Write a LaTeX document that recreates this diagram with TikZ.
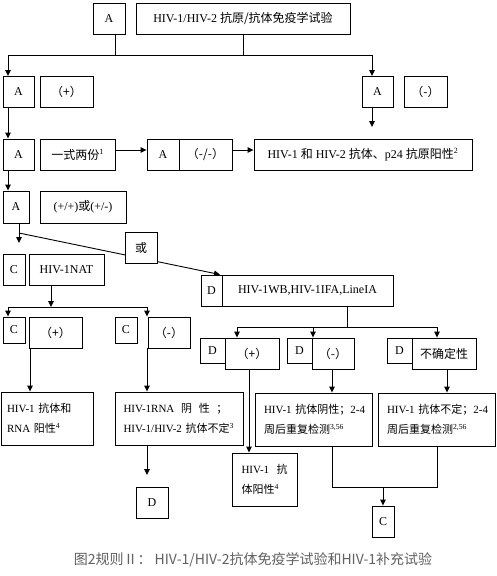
\documentclass[tikz,border=0pt]{standalone}
\usepackage{fontspec}
\setmainfont{Liberation Serif}
\newfontfamily\cjk{Noto Sans CJK SC}
\usetikzlibrary{arrows.meta,backgrounds,calc}
\begin{document}
\begin{tikzpicture}[x=1pt,y=-1pt,
  bx/.style={draw, line width=0.9pt, inner sep=0pt, fill=white, font=\fontsize{12}{14}\selectfont},
  wd/.style={minimum width=#1},
  ht/.style={minimum height=#1},
  multi/.style={bx, align=left, font=\fontsize{11}{19.5}\selectfont},
  ln/.style={line width=0.9pt},
  arr/.style={line width=0.9pt, -{Triangle[length=6pt,width=5.5pt]}},
  captxt/.style={font=\cjk\fontsize{14}{16}\selectfont, text=black!62}
]
\useasboundingbox (0,0) rectangle (497,576);

% row 0
\node[bx, wd=32pt, ht=31pt] (A0) at (109,18.5) {A};
\node[bx, wd=214pt, ht=31pt] (T0) at (243,18.5) {HIV-1/HIV-2 {\cjk 抗原/抗体免疫学试验}};
% row 1
\node[bx, wd=31pt, ht=31pt] (A1) at (18.5,92) {A};
\node[bx, wd=53pt, ht=31pt] (P1) at (66.5,92) {\cjk （+）};
\node[bx, wd=31pt, ht=31pt] (A2) at (377.5,92) {A};
\node[bx, wd=43pt, ht=31pt] (M1) at (425.5,92) {\cjk （-）};
% row 3
\node[bx, wd=31pt, ht=31pt] (A3) at (18.5,154.5) {A};
\node[bx, wd=75pt, ht=31pt] (Y3) at (77.5,154.5) {{\cjk 一式两份}\textsuperscript{1}};
\node[bx, wd=32pt, ht=31pt] (AM3a) at (163,154.5) {A};
\node[bx, wd=53pt, ht=31pt] (AM3b) at (205.5,154.5) {\cjk （-/-）};
\node[bx, wd=218pt, ht=31pt] (H3) at (363,154.5) {HIV-1 {\cjk 和} HIV-2 {\cjk 抗体、}p24 {\cjk 抗原阳性}\textsuperscript{2}};
% row 4
\node[bx, wd=26pt, ht=32pt] (A4) at (16,207) {A};
\node[bx, wd=86pt, ht=32pt] (PP4) at (83,207) {(+/+){\cjk 或}(+/-)};
% row 5
\node[bx, wd=22pt, ht=31pt] (C5) at (14,269.5) {C};
\node[bx, wd=75pt, ht=31pt] (N5) at (66.5,269.5) {HIV-1NAT};
\node[bx, wd=21pt, ht=31pt] (D5) at (211.5,290.5) {D};
\node[bx, wd=171pt, ht=31pt] (W5) at (307.5,290.5) {HIV-1WB,HIV-1IFA,LineIA};
% row 6 left
\node[bx, wd=22pt, ht=26pt] (C6a) at (14,330) {C};
\node[bx, wd=53pt, ht=31pt] (P6) at (55.5,332.5) {\cjk （+）};
\node[bx, wd=22pt, ht=26pt] (C6b) at (126,330) {C};
\node[bx, wd=42pt, ht=31pt] (M6) at (169,332.5) {\cjk （-）};
% row 6 right
\node[bx, wd=25pt, ht=25pt] (DpD) at (212.5,350.5) {D};
\node[bx, wd=54pt, ht=31pt] (DpP) at (252,353.5) {\cjk （+）};
\node[bx, wd=25pt, ht=25pt] (DmD) at (299.5,350.5) {D};
\node[bx, wd=42pt, ht=31pt] (DmM) at (333,353.5) {\cjk （-）};
\node[bx, wd=25pt, ht=25pt] (DuD) at (399.5,350.5) {D};
\node[bx, wd=64pt, ht=31pt] (DuU) at (444,353.5) {\cjk 不确定性};
% row 7
\node[multi, wd=92pt, ht=53pt, text width=80pt] (L7) at (47,418.5) {HIV-1 {\cjk 抗体和}\\RNA {\cjk 阳性}\textsuperscript{4}};
\node[multi, wd=128pt, ht=53pt, text width=111pt] (R7) at (179,418.5) {\makebox[104pt][l]{HIV-1RNA\hfill{\cjk 阴}\hfill{\cjk 性}\hfill{\cjk ；}}\\HIV-1/HIV-2 {\cjk 抗体不定}\textsuperscript{3}};
\node[multi, wd=117pt, ht=53pt, text width=99pt] (Neg7) at (313.5,419.5) {\mbox{HIV-1 {\cjk 抗体阴性；}2-4}\\{\cjk 周后重复检测}\textsuperscript{3,56}};
\node[multi, wd=117pt, ht=53pt, text width=99pt] (Und7) at (436.5,419.5) {\mbox{HIV-1 {\cjk 抗体不定；}2-4}\\{\cjk 周后重复检测}\textsuperscript{2,56}};
\node[multi, wd=65pt, ht=53pt, text width=46pt] (Pos8) at (264.5,479.5) {\makebox[46pt][l]{HIV-1\hfill{\cjk 抗}}\\{\cjk 体阳性}\textsuperscript{4}};
\node[bx, wd=32pt, ht=31pt] (D8) at (152,502.5) {D};
\node[bx, wd=22pt, ht=31pt] (C9) at (383,521.5) {C};
\node[bx, wd=32pt, ht=31pt] (Or) at (141,247.5) {\cjk 或};

% caption
\node[captxt] (cap) at (253,560) {图2规则Ⅱ： HIV-1/HIV-2抗体免疫学试验和HIV-1补充试验};

% connectors top
\coordinate (jL) at (8,55);
\coordinate (jR) at (372,55);
\coordinate (a0b) at ([xshift=6pt]A0.south);
\draw[ln] (a0b) -- (a0b |- jL);
\draw[ln] (T0.south) -- (T0.south |- jL);
\draw[ln] (jL) -- (jR);
\draw[arr] (jL) -- (jL |- A1.north);
\draw[arr] (jR) -- (jR |- A2.north);
\coordinate (a2e) at (372,127);
\draw[arr] (a2e |- A2.south) -- (a2e);
% row 3
\draw[arr] (jL |- A1.south) -- (jL |- A3.north);
\coordinate (y3e) at ([yshift=4.5pt]Y3.east);
\draw[arr] (y3e) -- (y3e -| AM3a.west);
\coordinate (am3e) at ([yshift=4.5pt]AM3b.east);
\draw[arr] (am3e) -- (am3e -| H3.west);
% row 4
\draw[arr] (jL |- A3.south) -- (jL |- A4.north);
\coordinate (j4) at (19,233);
\coordinate (c5t) at (19,243);
\draw[ln] (j4 |- A4.south) -- (j4);
\draw[arr] (j4) -- (c5t);
\coordinate (dtgt) at ([xshift=8.5pt]D5.north);
\begin{scope}[on background layer]
\fill[white] (0,0) rectangle (497,576);
\draw[arr] (j4) -- (dtgt);
\end{scope}
% row 5
\coordinate (j5) at (51,307);
\coordinate (j5L) at (8,307);
\coordinate (j5R) at (147,307);
\draw[arr] (j5 |- N5.south) -- (j5);
\draw[ln] (j5L) -- (j5R);
\draw[arr] (j5L) -- (j5L |- C6a.north);
\draw[arr] (j5R) -- (j5R |- M6.north);
\coordinate (j6) at (347,327);
\coordinate (j6L) at (237,327);
\coordinate (j6M) at (313,327);
\coordinate (j6R) at (437,327);
\draw[ln] (j6 |- W5.south) -- (j6);
\draw[ln] (j6L) -- (j6R);
\draw[arr] (j6L) -- (j6L |- DpP.north);
\draw[arr] (j6M) -- (j6M |- DmM.north);
\draw[arr] (j6R) -- (j6R |- DuU.north);
% row 7
\coordinate (x30) at (30,0);
\draw[arr] (x30 |- P6.south) -- (x30 |- L7.north);
\draw[arr] (j5R |- M6.south) -- (j5R |- R7.north);
\coordinate (d8t) at (147,475);
\draw[arr] (d8t |- R7.south) -- (d8t);
\coordinate (x249) at (249,0);
\draw[arr] (x249 |- DpP.south) -- (x249 |- Pos8.north);
\coordinate (x332) at (332,487);
\coordinate (x437) at (437,487);
\coordinate (x447) at (447,0);
\draw[arr] (x332 |- DmM.south) -- (x332 |- Neg7.north);
\draw[arr] (x447 |- DuU.south) -- (x447 |- Und7.north);
\draw[ln] (x332 |- Neg7.south) -- (x332) -- (x437) -- (x437 |- Und7.south);
\coordinate (x383) at (383,487);
\draw[arr] (x383) -- (C9.north);
\end{tikzpicture}
\end{document}
